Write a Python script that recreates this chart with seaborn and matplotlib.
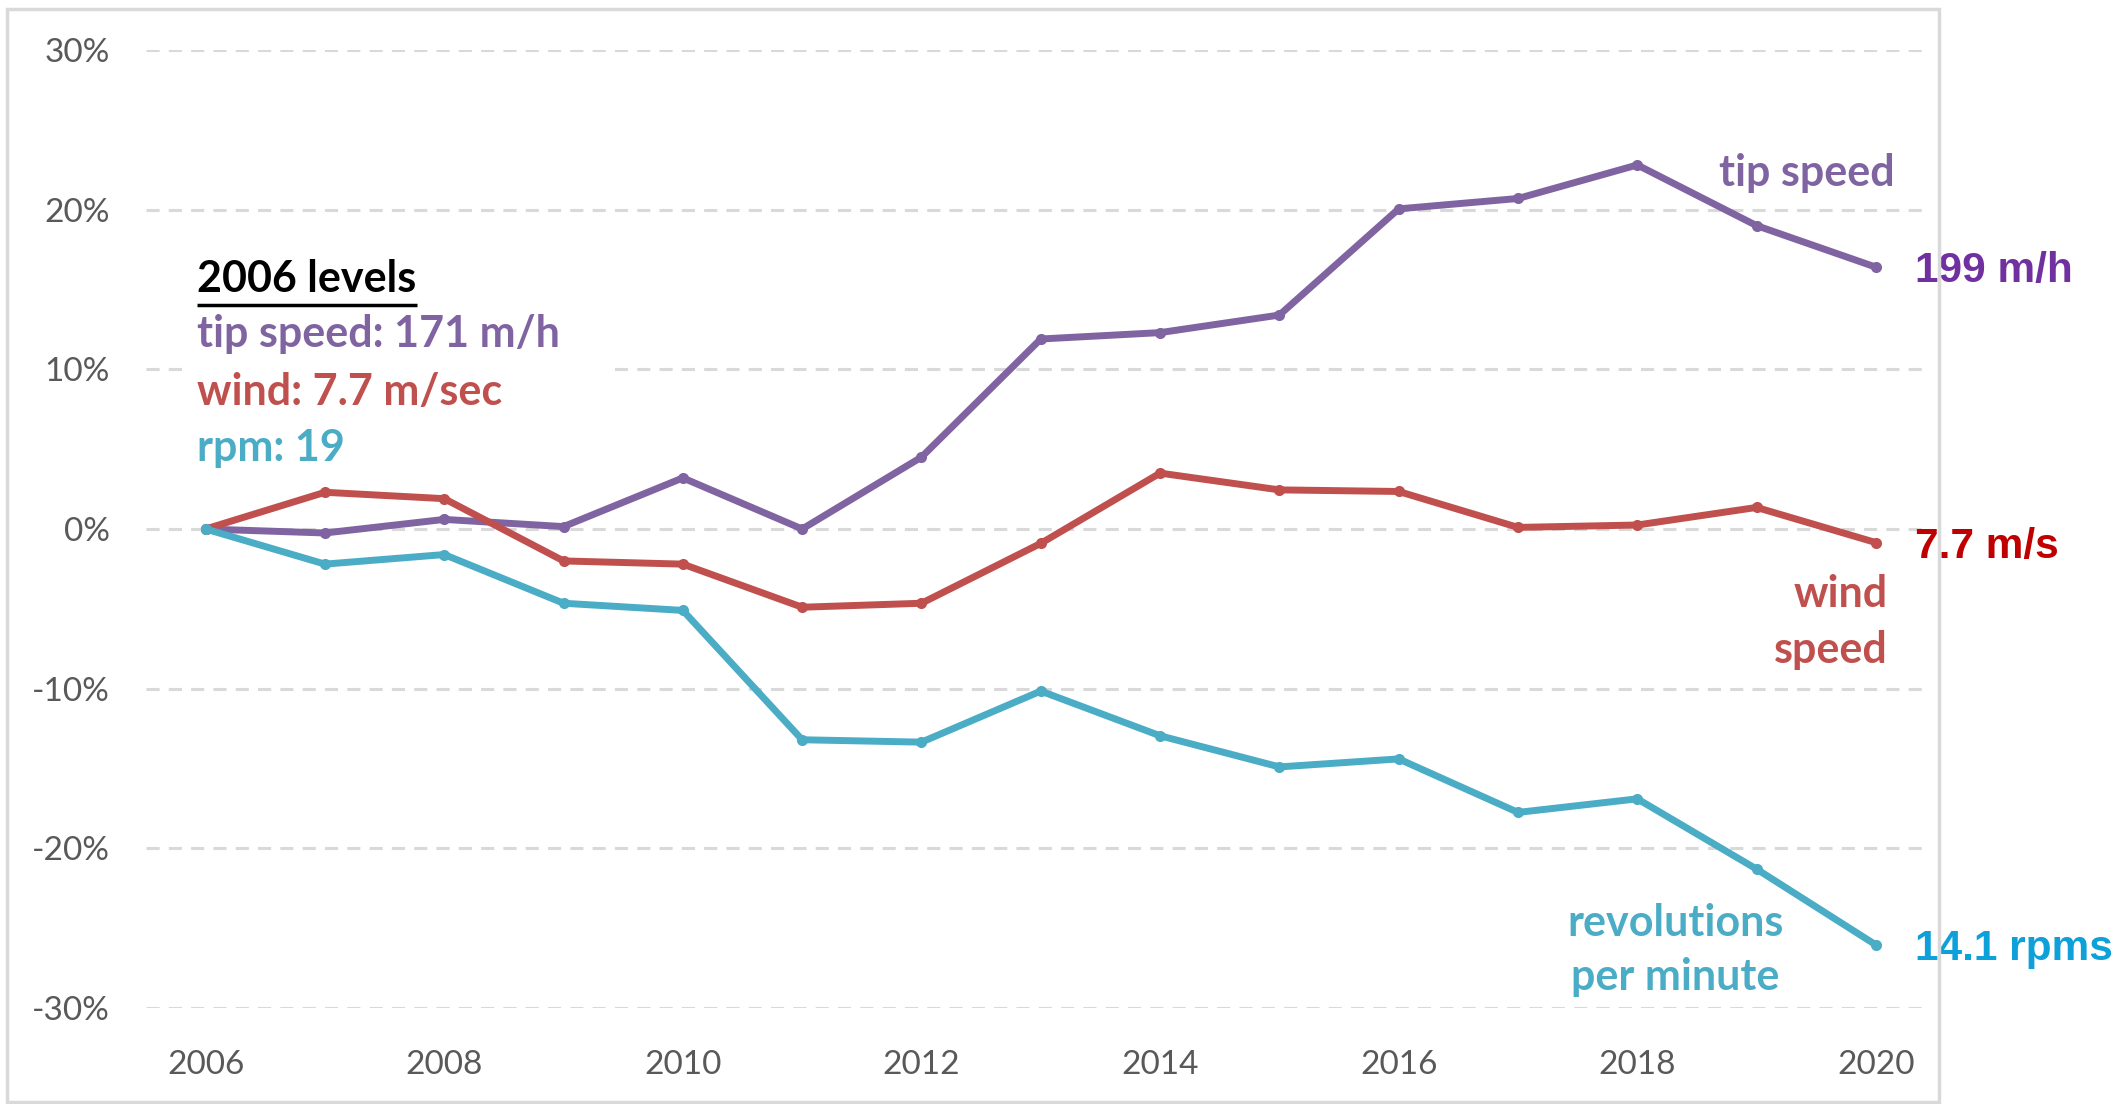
import matplotlib
matplotlib.use('Agg')
import matplotlib.pyplot as plt
import seaborn as sns
import numpy as np
import pandas as pd
from matplotlib.patches import Rectangle

# values (% change vs 2006)
years = list(range(2006, 2021))
tip_speed = [0.0, -0.25, 0.6, 0.15, 3.2, 0.0, 4.5, 11.9, 12.3, 13.4, 20.05, 20.7, 22.8, 19.0, 16.4]
wind_speed = [0.0, 2.3, 1.9, -2.0, -2.2, -4.9, -4.65, -0.9, 3.5, 2.45, 2.35, 0.1, 0.25, 1.35, -0.85]
rpm = [0.0, -2.2, -1.6, -4.65, -5.1, -13.2, -13.35, -10.15, -12.95, -14.9, -14.4, -17.75, -16.9, -21.3, -26.05]

series_names = ["tip speed", "wind speed", "rpm"]
series_colors = ["#8064A2", "#C0504D", "#4BACC6"]
end_labels = ["199 m/h", "7.7 m/s", "14.1 rpms"]
end_colors = ["#7030A0", "#C00000", "#0EA0D8"]
y_ticks = [-30, -20, -10, 0, 10, 20, 30]
x_ticks = [2006, 2008, 2010, 2012, 2014, 2016, 2018, 2020]

df = pd.DataFrame({
    "year": years * 3,
    "change": tip_speed + wind_speed + rpm,
    "series": np.repeat(series_names, len(years)),
})

sns.set_style("white")
plt.rcParams['font.family'] = ['Lato', 'DejaVu Sans']

W, H = 2119, 1104
fig = plt.figure(figsize=(W / 100, H / 100), dpi=100)
ax = fig.add_axes([146 / W, 1 - 1008 / H, (1926 - 146) / W, (1008 - 50) / H])

# outer chart border
fig.patches.append(Rectangle((7 / W, 1 - 1102 / H), (1939 - 7) / W, (1102 - 9) / H,
                             transform=fig.transFigure, fill=False, edgecolor="#D9D9D9", lw=2.5))

for y in y_ticks:
    ax.axhline(y, color="#D9D9D9", lw=2.2, ls=(0, (4.3, 3)), zorder=0)

sns.lineplot(data=df, x="year", y="change", hue="series", hue_order=series_names,
             palette=series_colors, marker="o", markersize=8, markeredgewidth=0,
             linewidth=5, legend=False, ax=ax, zorder=3)

ax.set_xlim(2005.5, 2020.42)
ax.set_ylim(-30, 30)
ax.set_xticks(x_ticks)
ax.set_yticks(y_ticks)
ax.set_yticklabels([f"{t}%" for t in y_ticks])
ax.tick_params(axis="both", length=0, labelsize=24, labelcolor="#595959")
ax.tick_params(axis="x", pad=30)
ax.tick_params(axis="y", pad=26)
ax.set_xlabel("")
ax.set_ylabel("")
sns.despine(ax=ax, left=True, bottom=True)

# white box behind the 2006 levels block
ax.add_patch(Rectangle((2005.83, 3.6), 3.6, 13.5, facecolor="white", edgecolor="none", zorder=1))

fs = 31
tx = 2005.93
head = ax.text(tx, 15.65, "2006 levels", fontsize=fs, fontweight="bold", color="black", va="center", zorder=2)
ax.text(tx, 12.2, "tip speed: 171 m/h", fontsize=fs, fontweight="bold", color="#8064A2", va="center", zorder=2)
ax.text(tx, 8.55, "wind: 7.7 m/sec", fontsize=fs, fontweight="bold", color="#C0504D", va="center", zorder=2)
ax.text(tx, 5.08, "rpm: 19", fontsize=fs, fontweight="bold", color="#4BACC6", va="center", zorder=2)

# underline across the heading
fig.canvas.draw()
bb = head.get_window_extent().transformed(ax.transData.inverted())
ax.plot([bb.x0, bb.x1], [14.05, 14.05], color="black", lw=2.5, zorder=2, solid_capstyle="butt")

# series captions
ax.text(2020.16, 22.3, "tip speed", fontsize=fs, fontweight="bold", color="#8064A2", ha="right", va="center")
ax.text(2020.10, -4.1, "wind", fontsize=fs, fontweight="bold", color="#C0504D", ha="right", va="center")
ax.text(2020.10, -7.6, "speed", fontsize=fs, fontweight="bold", color="#C0504D", ha="right", va="center")
ax.text(2018.32, -24.65, "revolutions", fontsize=fs, fontweight="bold", color="#4BACC6", ha="center", va="center")
ax.text(2018.32, -28.05, "per minute", fontsize=fs, fontweight="bold", color="#4BACC6", ha="center", va="center")

# end values
ends = [tip_speed[-1], wind_speed[-1], rpm[-1]]
for val, lab, col in zip(ends, end_labels, end_colors):
    ax.annotate(lab, xy=(years[-1], val), xytext=(28, -3), textcoords="offset points",
                fontsize=30.5, fontweight="bold", color=col, va="center",
                family=["Liberation Sans", "DejaVu Sans"], annotation_clip=False)

fig.savefig("out.png", dpi=100)
plt.close(fig)
